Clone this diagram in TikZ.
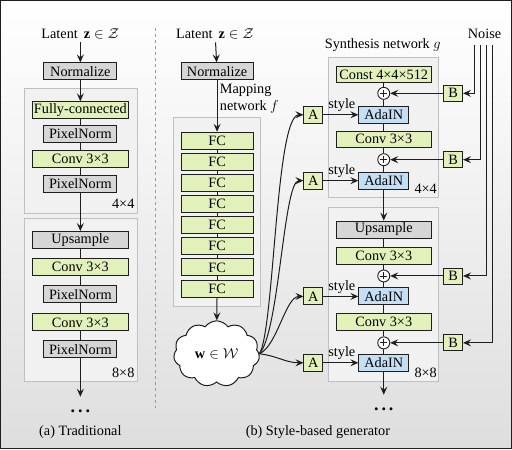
\documentclass[tikz,border=0pt]{standalone}
\usepackage{fontspec}
\setmainfont{Liberation Serif}
\usetikzlibrary{arrows.meta,shapes.symbols}

\definecolor{fcgreen}{RGB}{226,241,186}
\definecolor{boxgray}{RGB}{214,214,214}
\definecolor{adablue}{RGB}{196,222,244}
\definecolor{blockfill}{RGB}{241,241,241}
\definecolor{blockline}{RGB}{192,192,192}
\definecolor{edgecol}{RGB}{30,30,30}

\begin{document}
\begin{tikzpicture}[x=1pt,y=-1pt,
    font=\fontsize{14.3}{16}\selectfont,
    >={Stealth[length=8pt,width=7pt,inset=3pt]},
    unitbox/.style={draw=edgecol, line width=0.9pt, inner sep=0pt, minimum height=17pt},
    greenbox/.style={unitbox, fill=fcgreen},
    graybox/.style={unitbox, fill=boxgray},
    bluebox/.style={unitbox, fill=adablue},
    blockbg/.style={draw=blockline, fill=blockfill, line width=0.8pt},
    sumnode/.style={circle, draw=edgecol, fill=white, line width=0.9pt, minimum size=12pt, inner sep=0pt,
      path picture={\draw[line width=0.8pt] ([yshift=-2.5pt]path picture bounding box.north) -- ([yshift=2.5pt]path picture bounding box.south)
        ([xshift=2.5pt]path picture bounding box.west) -- ([xshift=-2.5pt]path picture bounding box.east);}},
    every path/.append style={line width=1pt, draw=edgecol}]

  \shade[draw=none, top color=white, middle color=white, bottom color=black!13] (0,0) rectangle (512,449);
  \useasboundingbox (0,0) rectangle (512,449);

  % (a) traditional
  \node (latA) at (80,33) {Latent \,$\mathbf{z}\in\mathcal{Z}$};
  \node[graybox, minimum width=73pt] (normA) at (80,71) {Normalize};
  \filldraw[blockbg] (24,88) rectangle (137,213);
  \filldraw[blockbg] (24,218) rectangle (137,382);
  \node[greenbox, minimum width=96pt] (fcA) at (80,110) {Fully-connected};
  \node[graybox, minimum width=73pt] (pnA1) at (80,133.5) {PixelNorm};
  \node[greenbox, minimum width=96pt] (convA1) at (80,158.5) {Conv 3×3};
  \node[graybox, minimum width=73pt] (pnA2) at (80,183.5) {PixelNorm};
  \node (resA1) at (123,204) {4×4};
  \node[graybox, minimum width=96pt] (upA) at (80,240) {Upsample};
  \node[greenbox, minimum width=96pt] (convA2) at (80,266.5) {Conv 3×3};
  \node[graybox, minimum width=73pt] (pnA3) at (80,294.5) {PixelNorm};
  \node[greenbox, minimum width=96pt] (convA3) at (80,322.5) {Conv 3×3};
  \node[graybox, minimum width=73pt] (pnA4) at (80,349.5) {PixelNorm};
  \node (resA2) at (123,373) {8×8};
  \coordinate (endA) at (80,397);
  \node[anchor=base, font=\fontsize{18}{18}\selectfont] (dotsA) at (80,413) {\textbf{.\hspace{3pt}.\hspace{3pt}.}};
  \node (capA) at (80,432) {(a) Traditional};

  \draw[->] (latA) -- (normA);
  \draw[->] (normA) -- (fcA);
  \draw (fcA) -- (pnA1) -- (convA1) -- (pnA2);
  \draw[->] (pnA2) -- (upA);
  \draw (upA) -- (convA2) -- (pnA3) -- (convA3) -- (pnA4);
  \draw[->] (pnA4) -- (endA);

  \draw[dashed, draw=black!40] (155,28) -- (155,408);

  % (b) mapping network
  \node (latB) at (215,33) {Latent \,$\mathbf{z}\in\mathcal{Z}$};
  \node[graybox, minimum width=72pt] (normB) at (217,71) {Normalize};
  \node[anchor=west, align=left, font=\fontsize{14.3}{17}\selectfont] (mapB) at (216,98) {Mapping\\network $f$};
  \filldraw[blockbg] (173,117) rectangle (260,306);
  \foreach \i in {1,...,8}
    \node[greenbox, minimum width=72pt] (fc\i) at (217,{140.5+21.15*(\i-1)}) {FC};
  \foreach \i [count=\j from 2] in {1,...,7}
    \draw (fc\i) -- (fc\j);
  \node[cloud, draw=edgecol, fill=white, cloud puffs=11, cloud puff arc=110, aspect=1.3,
    minimum width=86pt, minimum height=66pt, inner sep=0pt] (wB) at (216.5,354) {$\mathbf{w}\in\mathcal{W}$};
  \draw[->] (latB) -- (normB);
  \draw[->] (normB) -- (fc1);
  \draw[->] (fc8) -- (wB);

  % (b) synthesis network
  \node (synB) at (383,45) {Synthesis network $g$};
  \node (noiseB) at (485,33) {Noise};
  \filldraw[blockbg] (329,57) rectangle (439,197);
  \filldraw[blockbg] (329,207) rectangle (439,382);
  \node[greenbox, minimum width=95pt, minimum height=16pt] (constB) at (384,74) {Const 4×4×512};
  \node[sumnode] (sum1) at (384,93) {};
  \node[bluebox, minimum width=50pt] (ada1) at (384,114.5) {AdaIN};
  \node[greenbox, minimum width=95pt, minimum height=16pt] (conv1) at (384,139) {Conv 3×3};
  \node[sumnode] (sum2) at (384,159.5) {};
  \node[bluebox, minimum width=50pt] (ada2) at (384,180.5) {AdaIN};
  \node (resB1) at (426,189) {4×4};
  \node[graybox, minimum width=95pt] (upB) at (384,229.5) {Upsample};
  \node[greenbox, minimum width=95pt] (conv2) at (384,255.5) {Conv 3×3};
  \node[sumnode] (sum3) at (384,276) {};
  \node[bluebox, minimum width=50pt] (ada3) at (384,296.5) {AdaIN};
  \node[greenbox, minimum width=95pt] (conv3) at (384,322) {Conv 3×3};
  \node[sumnode] (sum4) at (384,343) {};
  \node[bluebox, minimum width=50pt] (ada4) at (384,363) {AdaIN};
  \node (resB2) at (426,373) {8×8};
  \coordinate (endB) at (384,395);
  \node[anchor=base, font=\fontsize{18}{18}\selectfont] (dotsB) at (384,411) {\textbf{.\hspace{3pt}.\hspace{3pt}.}};
  \node (capB) at (318,432) {(b) Style-based generator};

  \draw (constB) -- (sum1) -- (ada1) -- (conv1) -- (sum2) -- (ada2);
  \draw[->] (ada2) -- (upB);
  \draw (upB) -- (conv2) -- (sum3) -- (ada3) -- (conv3) -- (sum4) -- (ada4);
  \draw[->] (ada4) -- (endB);

  % styles A and noise B
  \foreach \i/\y in {1/114.5,2/180.5,3/296.5,4/363}
    \node[greenbox, minimum width=19pt] (a\i) at (313.5,\y) {A};
  \foreach \i/\y in {1/93,2/159.5,3/276,4/343}
    \node[greenbox, minimum width=19pt, minimum height=16pt] (b\i) at (453.5,\y) {B};
  \foreach \i in {1,...,4}
    \draw[->] (a\i) -- node[above=-0.5pt, xshift=1pt] {style} (ada\i);
  \foreach \i in {1,...,4}
    \draw[->] (b\i) -- (sum\i);
  \foreach \i/\x in {1/475,2/481,3/487,4/493} {
    \coordinate (n\i) at (\x,45);
    \draw[->] (n\i) |- (b\i);
  }

  \draw[->] (wB.east) .. controls +(15,-24) and +(-28,0) .. (a1.west);
  \draw[->] (wB.east) .. controls +(20,-22) and +(-20,0) .. (a2.west);
  \draw[->] (wB.east) .. controls +(18,-8) and +(-18,0) .. (a3.west);
  \draw[->] (wB.east) .. controls +(18,2) and +(-18,0) .. (a4.west);

\end{tikzpicture}
\end{document}
